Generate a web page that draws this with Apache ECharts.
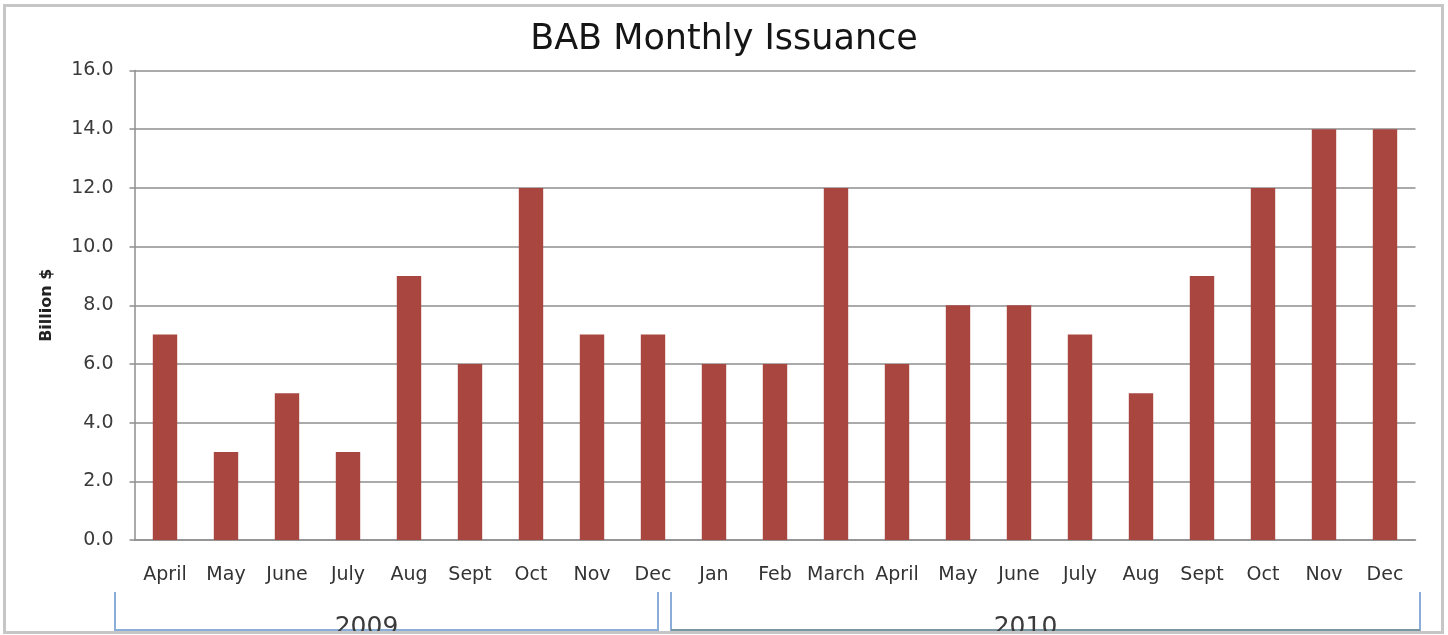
<!DOCTYPE html>
<html>
<head>
<meta charset="utf-8">
<script src="https://cdn.jsdelivr.net/npm/echarts@6/dist/echarts.min.js"></script>
<style>
  html, body { margin: 0; padding: 0; background: #fff; }
  #chart { width: 1448px; height: 635px; }
</style>
</head>
<body>
<div id="chart"></div>
<script>
const months = ['April','May','June','July','Aug','Sept','Oct','Nov','Dec',
                'Jan','Feb','March','April','May','June','July','Aug','Sept','Oct','Nov','Dec'];
const issuance = [7, 3, 5, 3, 9, 6, 12, 7, 7,
                  6, 6, 12, 6, 8, 8, 7, 5, 9, 12, 14, 14];
const yTicks = { min: 0, max: 16, interval: 2 };
const years = ['2009', '2010'];
const yearStart = [0, 9];
const yearEnd = [8, 20];

const chart = echarts.init(document.getElementById('chart'), null, { renderer: 'canvas' });
const font = 'DejaVu Sans';
const gridColor = '#8e8e8e';

chart.setOption({
  backgroundColor: '#ffffff',
  animation: false,
  title: {
    text: 'BAB Monthly Issuance',
    left: 'center',
    top: 17,
    textStyle: { fontFamily: font, fontSize: 35, fontWeight: 'normal', color: '#151515' }
  },
  grid: { left: 134.5, right: 32.5, top: 70.5, bottom: 95, containLabel: false },
  xAxis: {
    type: 'category',
    data: months,
    axisLine: { show: true, lineStyle: { color: gridColor, width: 1.5 } },
    axisTick: { show: false },
    axisLabel: { interval: 0, margin: 26, fontFamily: font, fontSize: 19, color: '#333333' },
    splitLine: { show: false }
  },
  yAxis: {
    type: 'value',
    min: yTicks.min, max: yTicks.max, interval: yTicks.interval,
    name: 'Billion $',
    nameLocation: 'middle',
    nameGap: 80,
    nameTextStyle: { fontFamily: font, fontSize: 16, fontWeight: 'bold', color: '#222222' },
    axisLine: { show: true, lineStyle: { color: gridColor, width: 1.5 } },
    axisTick: { show: true, length: 5, inside: false, lineStyle: { color: gridColor, width: 1.5 } },
    axisLabel: { margin: 21, fontFamily: font, fontSize: 19, color: '#3a3a3a',
                 padding: [4, 0, 0, 0],
                 formatter: v => v.toFixed(1) },
    splitLine: { show: true, lineStyle: { color: gridColor, width: 1.5 } }
  },
  series: [{
    type: 'bar',
    data: issuance,
    barWidth: '40%',
    itemStyle: { color: '#a8463f' }
  }]
});

// Year brackets, positioned from the category axis
const c0 = chart.convertToPixel({ xAxisIndex: 0 }, 0);
const c1 = chart.convertToPixel({ xAxisIndex: 0 }, 1);
const half = (c1 - c0) / 2;
const yBase = chart.convertToPixel({ yAxisIndex: 0 }, 0);
const bTop = yBase + 52, bBot = yBase + 90;
const leftOff = [-19.5, -12.5], rightOff = [-25.5, 4.5];
const hColors = ['#8aaed8', '#7a97a3'];
const graphics = [];
years.forEach((yr, i) => {
  const xl = chart.convertToPixel({ xAxisIndex: 0 }, yearStart[i]) - half + leftOff[i];
  const xr = chart.convertToPixel({ xAxisIndex: 0 }, yearEnd[i]) + half + rightOff[i];
  graphics.push({ type: 'polyline', shape: { points: [[xl, bTop], [xl, bBot], [xr, bBot], [xr, bTop]] },
    style: { stroke: '#8aaed8', lineWidth: 2, fill: null }, z: 10 });
  graphics.push({ type: 'line', shape: { x1: xl, y1: bBot, x2: xr, y2: bBot },
    style: { stroke: hColors[i], lineWidth: 2 }, z: 11 });
  graphics.push({ type: 'text', x: (xl + xr) / 2 - 20, y: bBot - 3,
    style: { text: yr, font: '25px "DejaVu Sans"', fill: '#3a3a3a', textAlign: 'center', textVerticalAlign: 'middle' }, z: 12 });
});
graphics.push({ type: 'rect', shape: { x: 4.5, y: 5.5, width: 1438, height: 627 },
  style: { stroke: '#c6c6c6', lineWidth: 3, fill: null }, z: 20 });
chart.setOption({ graphic: graphics });
</script>
</body>
</html>
